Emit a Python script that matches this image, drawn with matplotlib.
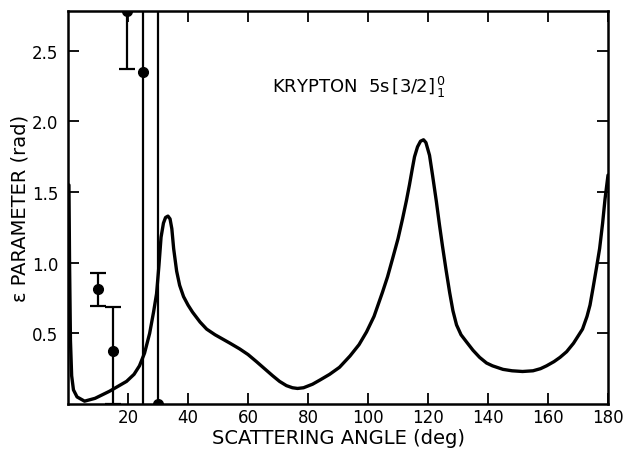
import matplotlib.pyplot as plt

# measured points (deg, rad) with error bar ends
pt_angle = [10, 15, 19.5, 25, 30]
pt_eps = [0.815, 0.375, 2.78, 2.35, 0.0]
pt_low = [0.695, 0.0, 2.37, -1.0, -1.0]
pt_high = [0.93, 0.69, 4.0, 4.0, 4.0]

# theory curve
curve_angle = [0.3, 0.5, 0.8, 1.2, 1.8, 3.0, 5.5, 9, 13.8, 19.5, 22, 23.8, 25.5, 27.2,
               28.5, 29.5, 30.3, 31, 31.8, 32.5, 33.3, 34.0, 34.6, 35.2, 36.2, 37.2,
               38.5, 40, 41.5, 44, 46.2, 49, 51.5, 54, 57.2, 60, 62.8, 65.5, 68.2, 70.5,
               72.8, 74.8, 76.5, 78.5, 81.5, 84, 87.2, 90.5, 94, 97, 99.5, 102, 104.8,
               106.5, 108.2, 110, 111.5, 112.8, 113.8, 114.8, 115.5, 116.5, 117.5, 118.5,
               119.3, 120.5, 121.5, 122.8, 123.8, 124.8, 126, 127.2, 128.3, 129.5, 131,
               132.8, 135, 137.2, 139.5, 141.5, 145, 148, 151.5, 155, 157.5, 159.5, 162,
               164, 166.2, 168.5, 170, 171.5, 173, 174, 175, 176.2, 177.2, 178.2, 179, 180]
curve_eps = [1.55, 1.0, 0.45, 0.2, 0.1, 0.05, 0.02, 0.04, 0.09, 0.16, 0.21, 0.27, 0.36, 0.5,
             0.65, 0.78, 0.98, 1.18, 1.28, 1.32, 1.33, 1.31, 1.24, 1.10, 0.94, 0.84,
             0.76, 0.70, 0.65, 0.58, 0.53, 0.49, 0.46, 0.43, 0.39, 0.35, 0.30, 0.25, 0.20, 0.16,
             0.13, 0.115, 0.11, 0.115, 0.14, 0.17, 0.21, 0.26, 0.34, 0.42, 0.51, 0.62, 0.79,
             0.90, 1.03, 1.17, 1.31, 1.44, 1.55, 1.67, 1.75, 1.82, 1.86, 1.87,
             1.85, 1.76, 1.62, 1.43, 1.27, 1.12, 0.95, 0.79, 0.66, 0.56, 0.49,
             0.44, 0.38, 0.33, 0.29, 0.27, 0.245, 0.235, 0.23, 0.235, 0.25, 0.27, 0.30,
             0.33, 0.37, 0.43, 0.48, 0.53, 0.62, 0.70, 0.82, 0.97, 1.10, 1.28, 1.45, 1.62]

x_ticks = [20, 40, 60, 80, 100, 120, 140, 160, 180]
y_ticks = [0.5, 1.0, 1.5, 2.0, 2.5]

fig = plt.figure(figsize=(6.36, 4.52), dpi=100)
ax = fig.add_axes([0.107, 0.104, 0.849, 0.869])

ax.plot(curve_angle, curve_eps, color='black', lw=2.4, solid_capstyle='round')

err = [[e - lo for e, lo in zip(pt_eps, pt_low)], [hi - e for e, hi in zip(pt_eps, pt_high)]]
ax.errorbar(pt_angle, pt_eps, yerr=err, fmt='o', color='black', ms=7,
            elinewidth=1.6, capsize=6, capthick=1.6)

ax.set_xlim(0, 180)
ax.set_ylim(0, 2.78)
ax.set_xticks(x_ticks)
ax.set_yticks(y_ticks)
ax.set_yticklabels(['0.5', '1.0', '1.5', '2.0', '2.5'])
ax.tick_params(direction='in', length=8, width=1.3, top=True, right=True, labelsize=12)
ax.tick_params(axis='x', pad=3)
ax.tick_params(axis='y', pad=7)
for s in ax.spines.values():
    s.set_linewidth(1.8)

ax.set_xlabel('SCATTERING ANGLE (deg)', fontsize=14, labelpad=1)
ax.set_ylabel('ε PARAMETER (rad)', fontsize=14, labelpad=2)

ax.text(68, 2.25, r'KRYPTON  5s$\,[3/2]^{\,0}_{\,1}$', fontsize=13, va='center', ha='left')

fig.savefig('out.png', dpi=100)
